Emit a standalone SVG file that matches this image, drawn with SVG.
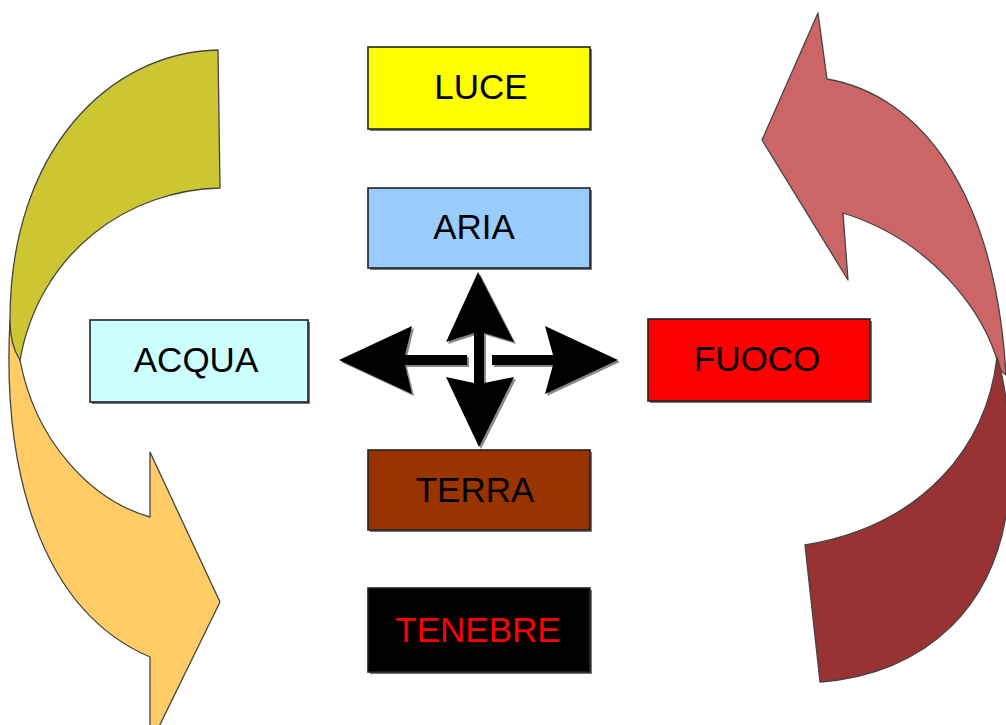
<svg xmlns="http://www.w3.org/2000/svg" width="1006" height="725" viewBox="0 0 1006 725">
<style>
.box{stroke:#222;stroke-width:1.6}
.shadow{fill:#777}
.lbl{font-family:"Liberation Sans",Arial,sans-serif;font-size:35px;text-anchor:middle}
.curve{stroke:#444;stroke-width:1.3;stroke-linejoin:round}
</style>
<rect width="1006" height="725" fill="#fff"/>
<g id="cycle-left">
<path class="curve" fill="#FFCC66" d="M10,320 C2,470 40,610 150,657 L150,745 L220,602 L150,452 L150,517 C90,500 35,440 20,360 Z"/>
<path class="curve" fill="#CCC633" d="M218,50 L220,188 C130,190 40,250 20,360 Q10,345 10,320 C10,150 110,52 218,50 Z"/>
</g>
<g id="cycle-right">
<path class="curve" fill="#CC6666" d="M818,13 L827,79 C920,95 995,190 1006,375 L1000,370 C985,310 930,240 843,213 L848,280 L762,140 Z"/>
<path class="curve" fill="#993333" d="M805,545 L820,682 C920,675 1008,610 1010,470 C1010,420 1006,385 997,357 C987,445 925,525 805,545 Z"/>
</g>
<g id="connectors">
<g fill="#888" transform="translate(2,2)">
<path d="M478,272 L514,342 L484,333 L484,383 L514,377 L479,447 L446,377 L474,383 L474,333 L446,342 Z"/>
<path d="M339,360 L412,326 L405,355 L467,355 L467,365 L405,365 L412,394 Z"/>
<path d="M618,360 L545,394 L553,365 L492,365 L492,355 L553,355 L545,326 Z"/>
</g>
<g fill="#000">
<path d="M478,272 L514,342 L484,333 L484,383 L514,377 L479,447 L446,377 L474,383 L474,333 L446,342 Z"/>
<path d="M339,360 L412,326 L405,355 L467,355 L467,365 L405,365 L412,394 Z"/>
<path d="M618,360 L545,394 L553,365 L492,365 L492,355 L553,355 L545,326 Z"/>
</g>
</g>
<g id="luce">
<rect class="shadow" x="370" y="49" width="222" height="82"/>
<rect class="box" x="368" y="47" width="222" height="82" fill="#FFFF00"/>
<text class="lbl" x="481" y="99" fill="#000">LUCE</text>
</g>
<g id="aria">
<rect class="shadow" x="370" y="190" width="222" height="80"/>
<rect class="box" x="368" y="188" width="222" height="80" fill="#99CCFF"/>
<text class="lbl" x="474" y="239" fill="#000">ARIA</text>
</g>
<g id="acqua">
<rect class="shadow" x="92" y="322" width="218" height="82"/>
<rect class="box" x="90" y="320" width="218" height="82" fill="#CCFFFF"/>
<text class="lbl" x="196" y="372" fill="#000">ACQUA</text>
</g>
<g id="fuoco">
<rect class="shadow" x="650" y="321" width="222" height="82"/>
<rect class="box" x="648" y="319" width="222" height="82" fill="#FF0000"/>
<text class="lbl" x="757" y="371" fill="#000">FUOCO</text>
</g>
<g id="terra">
<rect class="shadow" x="370" y="452" width="222" height="80"/>
<rect class="box" x="368" y="450" width="222" height="80" fill="#993300"/>
<text class="lbl" x="475" y="502" fill="#000">TERRA</text>
</g>
<g id="tenebre">
<rect class="shadow" x="370" y="590" width="222" height="84"/>
<rect class="box" x="368" y="588" width="222" height="84" fill="#000"/>
<text class="lbl" x="478" y="642" fill="#FF0000">TENEBRE</text>
</g>
</svg>
